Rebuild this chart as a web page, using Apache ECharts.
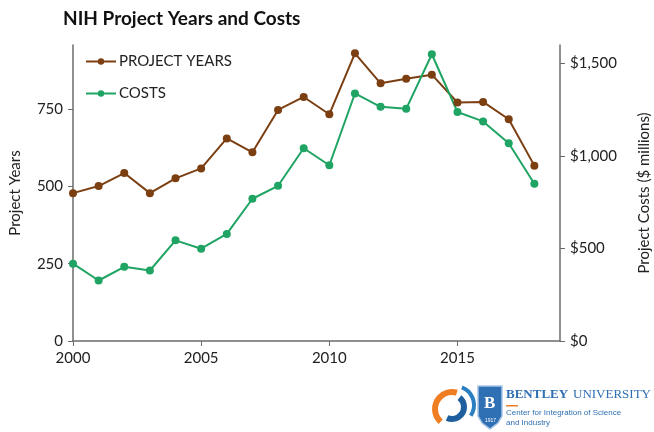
<!DOCTYPE html>
<html>
<head>
<meta charset="utf-8">
<script src="https://cdn.jsdelivr.net/npm/echarts@6/dist/echarts.min.js"></script>
<style>
  html, body { margin: 0; padding: 0; background: #fff; }
  #chart { width: 654px; height: 432px; }
</style>
</head>
<body>
<div id="chart"></div>
<script>
const years = [2000, 2001, 2002, 2003, 2004, 2005, 2006, 2007, 2008, 2009,
  2010, 2011, 2012, 2013, 2014, 2015, 2016, 2017, 2018]
const projectYears = [478, 501, 543, 478, 526, 558, 655, 610, 747, 789,
  733, 930, 833, 848, 861, 771, 773, 717, 567]
const costs = [418, 327, 401, 381, 544, 499, 579, 769, 839, 1042,
  950, 1338, 1266, 1255, 1550, 1238, 1187, 1069, 850]

const font = 'Lato, "Open Sans", sans-serif'
const brown = '#7b3f12'
const green = '#1fa463'
const axisColor = '#6b6b6b'

const chart = echarts.init(document.getElementById('chart'))

chart.setOption({
  animation: false,
  title: {
    text: 'NIH Project Years and Costs',
    left: 58,
    top: 4,
    textStyle: { fontFamily: font, fontWeight: 'bold', fontSize: 19, color: '#111' }
  },
  legend: {
    orient: 'vertical',
    left: 85,
    top: 54,
    padding: 0,
    itemGap: 17,
    itemWidth: 30,
    itemHeight: 8,
    textStyle: { fontFamily: font, fontSize: 15, color: '#222', padding: [0, 0, 0, -2] },
    data: ['PROJECT YEARS', 'COSTS']
  },
  grid: { left: 73, right: 94, top: 45, bottom: 91, outerBoundsMode: 'none', containLabel: false },
  xAxis: {
    type: 'value',
    min: 2000,
    max: 2019,
    interval: 5,
    axisLine: { lineStyle: { color: axisColor, width: 1.5 } },
    axisTick: { show: true, length: 5, lineStyle: { color: axisColor } },
    splitLine: { show: false },
    axisLabel: {
      showMaxLabel: false,
      margin: 10,
      fontFamily: font,
      fontSize: 15,
      color: '#222',
      formatter: v => String(v)
    }
  },
  yAxis: [
    {
      type: 'value',
      min: 0,
      max: 957,
      interval: 250,
      name: 'Project Years',
      nameLocation: 'middle',
      nameGap: 50,
      nameTextStyle: { fontFamily: font, fontSize: 15, color: '#222' },
      axisLine: { show: true, lineStyle: { color: axisColor, width: 1.5 } },
      axisTick: { show: true, length: 5, lineStyle: { color: axisColor } },
      splitLine: { show: false },
      axisLabel: { showMaxLabel: false, margin: 10, fontFamily: font, fontSize: 15, color: '#222' }
    },
    {
      type: 'value',
      min: 0,
      max: 1600,
      interval: 500,
      position: 'right',
      name: 'Project Costs ($ millions)',
      nameLocation: 'middle',
      nameGap: 77,
      nameTextStyle: { fontFamily: font, fontSize: 15, color: '#222' },
      axisLine: { show: true, lineStyle: { color: axisColor, width: 1.5 } },
      axisTick: { show: true, length: 5, lineStyle: { color: axisColor } },
      splitLine: { show: false },
      axisLabel: {
        showMaxLabel: false,
        margin: 10,
        fontFamily: font,
        fontSize: 15,
        color: '#222',
        formatter: v => '$' + v.toLocaleString('en-US')
      }
    }
  ],
  series: [
    {
      name: 'PROJECT YEARS',
      type: 'line',
      yAxisIndex: 0,
      data: years.map((y, i) => [y, projectYears[i]]),
      symbol: 'circle',
      symbolSize: 8,
      itemStyle: { color: brown },
      lineStyle: { color: brown, width: 2 }
    },
    {
      name: 'COSTS',
      type: 'line',
      yAxisIndex: 1,
      data: years.map((y, i) => [y, costs[i]]),
      symbol: 'circle',
      symbolSize: 8,
      itemStyle: { color: green },
      lineStyle: { color: green, width: 2 }
    }
  ],
  graphic: [
    // swirl logo
    { type: 'arc', shape: { cx: 452, cy: 409, r: 17, startAngle: 2.3, endAngle: 5.0 },
      style: { stroke: '#ef7d22', lineWidth: 6, fill: null } },
    { type: 'arc', shape: { cx: 452, cy: 407, r: 12, startAngle: -0.9, endAngle: 2.0 },
      style: { stroke: '#1f5f9e', lineWidth: 6, fill: null } },
    { type: 'arc', shape: { cx: 455, cy: 405, r: 19, startAngle: -1.2, endAngle: 0.6 },
      style: { stroke: '#2a7fc1', lineWidth: 4, fill: null } },
    // shield
    { type: 'polygon',
      shape: { points: [[478, 386], [502, 386], [502, 416], [498, 423], [490, 429], [482, 423], [478, 416]] },
      style: { fill: '#2f6fb3', stroke: '#a9c6e6', lineWidth: 1.5 } },
    { type: 'text', left: 484, top: 395,
      style: { text: 'B', font: 'bold 17px "Liberation Serif", serif', fill: '#fff' } },
    { type: 'text', left: 485, top: 418,
      style: { text: '1917', font: '5px sans-serif', fill: '#fff' } },
    // text
    { type: 'text', left: 506, top: 388,
      style: { text: 'BENTLEY', font: 'bold 13px "Liberation Serif", serif', fill: '#2f6fb3' } },
    { type: 'text', left: 573, top: 388,
      style: { text: 'UNIVERSITY', font: '13px "Liberation Serif", serif', fill: '#2f6fb3' } },
    { type: 'rect', shape: { x: 506, y: 405, width: 12, height: 1.5 }, style: { fill: '#ef7d22' } },
    { type: 'text', left: 506, top: 409,
      style: { text: 'Center for Integration of Science', font: '8px "Liberation Sans", sans-serif', fill: '#2f6fb3' } },
    { type: 'text', left: 506, top: 419,
      style: { text: 'and Industry', font: '8px "Liberation Sans", sans-serif', fill: '#2f6fb3' } }
  ]
})
</script>
</body>
</html>
